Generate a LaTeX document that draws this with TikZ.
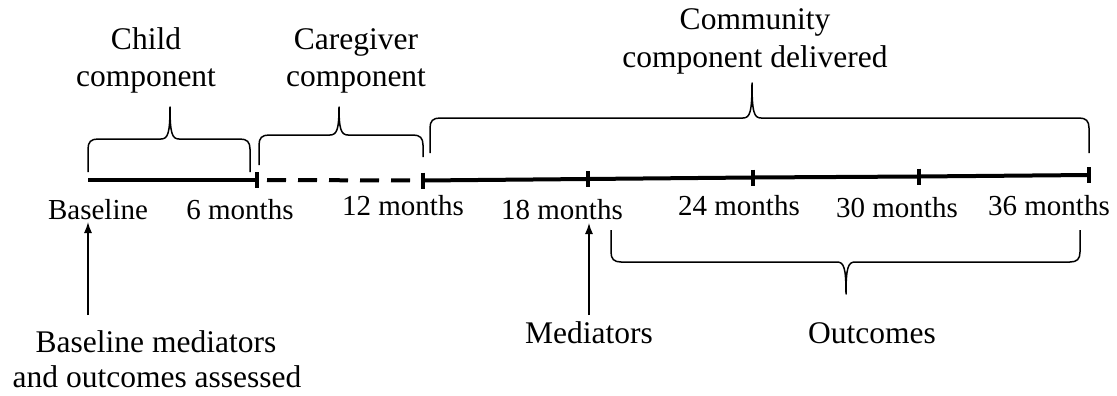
\documentclass[tikz,border=0pt]{standalone}
\usepackage{fontspec}
\setmainfont{Liberation Serif}
\usetikzlibrary{arrows.meta,calc}
\newcommand\wordbrace[8]{% x1, yb1, x2, yb2, yh, xm, yt, s
  \draw[bracestyle] (#1,#2) -- (#1,{#5+10*#8})
    .. controls (#1,{#5+3*#8}) and ({#1+3},#5) .. ({#1+10},#5)
    -- ({#6-9},#5)
    .. controls ({#6-2},#5) and (#6,{#5-6*#8}) .. (#6,#7)
    .. controls (#6,{#5-6*#8}) and ({#6+2},#5) .. ({#6+9},#5)
    -- ({#3-10},#5)
    .. controls ({#3-3},#5) and (#3,{#5+3*#8}) .. (#3,{#5+10*#8})
    -- (#3,#4);}
\begin{document}
\begin{tikzpicture}[x=1pt,y=-1pt,
  bracestyle/.style={line width=1.5pt,line join=round},
  axisline/.style={line width=4pt},
  tickmark/.style={line width=3.5pt},
  tlabel/.style={anchor=base,inner sep=0pt,font=\fontsize{29}{34}\selectfont},
  blabel/.style={anchor=base,inner sep=0pt,font=\fontsize{31.5}{36}\selectfont},
  arr/.style={line width=1.3pt,-{Latex[length=11pt,width=8pt]}}]
\path[use as bounding box] (0,0) rectangle (1117,396);
% timeline
\coordinate (t0) at (88,180);
\coordinate (t6) at (257,180);
\coordinate (t12) at (423,180.5);
\coordinate (t18) at (588,179);
\coordinate (t24) at (753,177.5);
\coordinate (t30) at (919,176.5);
\coordinate (t36) at (1089,175);
\draw[axisline] (t0) -- (t6);
\draw[axisline,dash pattern=on 19pt off 12pt,dash phase=-10pt] (t6) -- (t12);
\draw[axisline] (t12) -- (t18) -- (t24) -- (t30) -- (t36);
\foreach \t in {t6,t12,t18,t24,t30,t36}
  \draw[tickmark] ($(\t)+(0,-8)$) -- ($(\t)+(0,8)$);
% timeline labels
\node[tlabel] (base) at (98,219) {Baseline};
\node[tlabel] (m6) at (240,219) {6 months};
\node[tlabel] (m12) at (403,215) {12 months};
\node[tlabel] (m18) at (562,219) {18 months};
\node[tlabel] (m24) at (739,215) {24 months};
\node[tlabel] (m30) at (897,217) {30 months};
\node[tlabel] (m36) at (1049,215) {36 months};
% top braces
\wordbrace{88}{172}{250}{172}{139}{170}{107}{1}
\wordbrace{259}{165}{423}{157}{135}{339}{107}{1}
\wordbrace{430}{153}{1089}{153}{118}{752}{83}{1}
% bottom brace
\wordbrace{611}{230}{1080}{230}{262}{846}{294}{-1}
% top labels
\node[blabel] (child1) at (146,50) {Child};
\node[blabel] (child2) at (146,87) {component};
\node[blabel] (care1) at (356,50) {Caregiver};
\node[blabel] (care2) at (356,87) {component};
\node[blabel] (comm1) at (755,30) {Community};
\node[blabel] (comm2) at (755,67) {component delivered};
% bottom labels
\node[blabel] (bm1) at (156,352) {Baseline mediators};
\node[blabel] (bm2) at (157,387) {and outcomes assessed};
\node[blabel] (med) at (589,343) {Mediators};
\node[blabel,anchor=base west] (out) at (808,343) {Outcomes};
% arrows
\coordinate (a1s) at (88,315);
\coordinate (a1e) at (88,222);
\coordinate (a2s) at (589,315);
\coordinate (a2e) at (589,223);
\draw[arr] (a1s) -- (a1e);
\draw[arr] (a2s) -- (a2e);
\end{tikzpicture}
\end{document}
